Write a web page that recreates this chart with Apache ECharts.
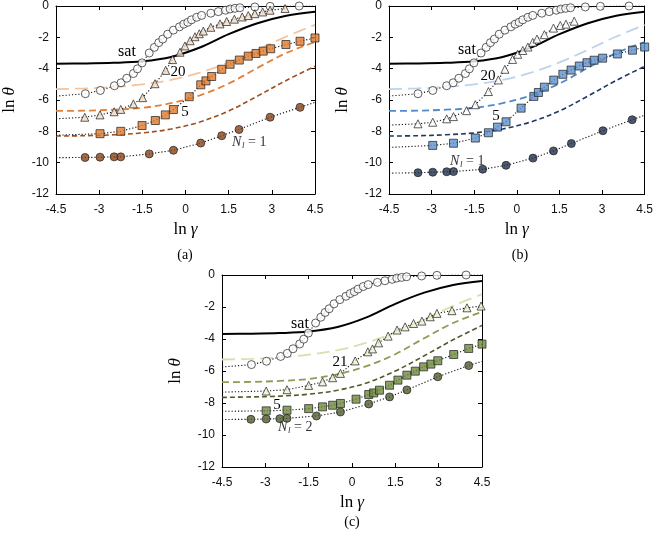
<!DOCTYPE html>
<html><head><meta charset="utf-8">
<script src="https://cdn.jsdelivr.net/npm/echarts@6/dist/echarts.min.js"></script>
<style>html,body{margin:0;padding:0;background:#fff}#c{width:656px;height:536px}</style>
</head><body><div id="c"></div><script>
// ---------- axis settings ----------
const xMin = -4.5, xMax = 4.5, xStep = 1.5;
const yMin = -12, yMax = 0, yStep = 2;

// ---------- model curves (dashed), sampled ----------
const curveX   = [-4.5, -3.5, -2.5, -1.5, -0.5, 0.5, 1.5, 2.5, 3.5, 4.5];
const satY     = [-3.68, -3.67, -3.63, -3.53, -3.25, -2.65, -1.80, -1.10, -0.62, -0.37];
const modelN20 = [-5.30, -5.26, -5.17, -5.00, -4.72, -4.25, -3.60, -2.80, -1.95, -1.20];
const modelN21 = [-5.28, -5.24, -5.15, -4.98, -4.70, -4.23, -3.58, -2.78, -1.93, -1.20];
const modelN5  = [-6.70, -6.68, -6.62, -6.50, -6.20, -5.70, -4.95, -3.95, -3.00, -2.30];
const modelN2  = [-7.65, -7.62, -7.57, -7.45, -7.20, -6.75, -6.00, -5.05, -4.05, -3.15];
const modelN1  = [-8.30, -8.28, -8.22, -8.10, -7.85, -7.40, -6.70, -5.75, -4.75, -3.85];

// ---------- measured points ----------
const satPts = [[-3.48,-5.60],[-2.96,-5.39],[-2.47,-5.09],[-2.24,-4.90],[-2.04,-4.61],[-1.81,-4.31],[-1.67,-4.01],[-1.51,-3.63],[-1.26,-3.00],[-1.08,-2.64],[-0.93,-2.34],[-0.79,-2.11],[-0.62,-1.80],[-0.42,-1.54],[-0.21,-1.33],[-0.06,-1.16],[0.08,-1.04],[0.21,-0.88],[0.39,-0.72],[0.56,-0.60],[0.88,-0.46],[1.14,-0.36],[1.39,-0.27],[1.55,-0.19],[1.72,-0.15],[1.89,-0.11],[2.41,-0.06],[2.94,-0.02],[3.95,0.0]];
const satEnds = [-5.75, 0.0];

const aN20 = [[-3.50,-7.10],[-2.97,-6.95],[-2.48,-6.75],[-2.25,-6.60],[-1.81,-6.25],[-1.49,-5.85],[-1.06,-4.96],[-0.69,-4.11],[-0.45,-3.42],[-0.19,-2.95],[-0.02,-2.55],[0.16,-2.22],[0.33,-1.96],[0.48,-1.77],[0.62,-1.60],[0.88,-1.36],[1.20,-1.14],[1.43,-0.99],[1.70,-0.84],[1.97,-0.70],[2.18,-0.61],[2.41,-0.49],[2.68,-0.38],[2.94,-0.27],[3.46,-0.16]];
const aN20Ends = [-7.20, null];
const aN5 = [[-2.97,-8.15],[-2.25,-8.00],[-1.51,-7.63],[-1.05,-7.31],[-0.70,-6.95],[-0.42,-6.61],[0.13,-5.79],[0.53,-5.03],[0.71,-4.78],[0.91,-4.50],[1.26,-4.04],[1.55,-3.72],[1.87,-3.45],[2.18,-3.20],[2.45,-3.03],[2.70,-2.88],[2.96,-2.73],[3.49,-2.46],[3.98,-2.25],[4.50,-2.04]];
const aN5Ends = [-8.25, null];
const aN1 = [[-3.49,-9.67],[-2.97,-9.65],[-2.48,-9.63],[-2.25,-9.63],[-1.26,-9.44],[-0.42,-9.21],[0.53,-8.75],[1.26,-8.28],[1.86,-7.88],[2.94,-7.10],[3.98,-6.47]];
const aN1Ends = [-9.68, -6.15];

const bN20 = [[-3.48,-7.52],[-2.96,-7.42],[-2.47,-7.20],[-2.23,-7.06],[-1.77,-6.68],[-1.46,-6.30],[-1.00,-5.46],[-0.65,-4.72],[-0.42,-4.04],[-0.15,-3.41],[0.03,-3.08],[0.21,-2.84],[0.39,-2.62],[0.56,-2.32],[0.71,-2.11],[0.97,-1.83],[1.29,-1.41],[1.53,-1.24],[1.73,-1.16],[2.02,-0.97]];
const bN20Ends = [-7.60, null];
const bN5 = [[-2.96,-8.90],[-2.23,-8.76],[-1.46,-8.43],[-1.00,-8.09],[-0.68,-7.73],[-0.38,-7.39],[0.15,-6.52],[0.60,-5.77],[0.76,-5.52],[0.97,-5.18],[1.30,-4.73],[1.62,-4.36],[1.91,-4.09],[2.20,-3.83],[2.47,-3.62],[2.72,-3.46],[3.02,-3.33],[3.54,-3.06],[4.07,-2.82],[4.50,-2.62]];
const bN5Ends = [-9.03, null];
const bN1 = [[-3.48,-10.64],[-2.96,-10.61],[-2.47,-10.58],[-2.23,-10.57],[-1.20,-10.42],[-0.38,-10.17],[0.57,-9.71],[1.29,-9.25],[1.92,-8.78],[3.03,-7.96],[4.06,-7.26]];
const bN1Ends = [-10.67, -6.97];

const cN21 = [[-2.97,-7.25],[-2.25,-7.17],[-1.50,-6.90],[-1.02,-6.68],[-0.67,-6.42],[-0.40,-6.15],[0.11,-5.37],[0.55,-4.80],[0.71,-4.62],[0.92,-4.24],[1.25,-3.82],[1.56,-3.44],[1.84,-3.24],[2.13,-3.03],[2.42,-2.88],[2.71,-2.61],[2.94,-2.40],[3.46,-2.23],[3.98,-2.05],[4.47,-1.94]];
const cN21Ends = [-7.32, null];
const cN5 = [[-2.97,-8.49],[-2.25,-8.45],[-1.50,-8.35],[-1.02,-8.24],[-0.67,-8.14],[-0.40,-8.03],[0.14,-7.76],[0.58,-7.47],[0.75,-7.37],[0.95,-7.20],[1.30,-6.89],[1.59,-6.57],[1.90,-6.26],[2.19,-6.01],[2.48,-5.74],[2.73,-5.57],[2.97,-5.36],[3.52,-4.97],[4.04,-4.59],[4.50,-4.32]];
const cN5Ends = [-8.52, null];
const cN2 = [[-3.50,-9.02],[-2.97,-9.00],[-2.50,-8.98],[-2.25,-8.96],[-1.23,-8.81],[-0.40,-8.56],[0.58,-8.06],[1.30,-7.62],[1.90,-7.18],[2.97,-6.36],[4.04,-5.66]];
const cN2Ends = [-9.03, -5.40];

// ---------- styling ----------
const palettes = {
  a: {light:'#f6c49c', mid:'#e2803a', dark:'#9c4f1f', sq:'#e07a2c', dot:'#8a4519', tri:'#f3dcc6'},
  b: {light:'#bcd3ec', mid:'#4f89c9', dark:'#1f3a62', sq:'#5c90d0', dot:'#1e2e4c', tri:'#ffffff'},
  c: {light:'#d9dfae', mid:'#8f9b55', dark:'#505a2b', sq:'#6e8a3c', dot:'#4f5c30', tri:'#eef0d2'}
};
const grids = [
  {left:56, top:5, width:259, height:189},
  {left:389, top:5, width:257, height:189},
  {left:222, top:275, width:260, height:192}
];

function zip(xs, ys){ return xs.map((x,i)=>[x, ys[i]]); }
function withEnds(pts, ends){
  const out = [[xMin, ends[0]]].concat(pts);
  if (ends[1] !== null) out.push([xMax, ends[1]]);
  return out;
}

const xAxes = [], yAxes = [], series = [];
grids.forEach((g, i) => {
  const tickStyle = {show:true, inside:true, length:4, lineStyle:{color:'#000', width:1}};
  xAxes.push({gridIndex:i, type:'value', min:xMin, max:xMax, interval:xStep, position:'bottom',
    axisLine:{onZero:false, lineStyle:{color:'#000', width:1}}, axisTick:tickStyle, splitLine:{show:false},
    axisLabel:{color:'#111', fontFamily:'Liberation Sans', fontSize:12, margin:10},
    name:'{n|ln}{g|γ}', nameLocation:'middle', nameGap:27,
    nameTextStyle:{rich:{n:{fontFamily:'Liberation Serif', fontSize:17, color:'#000'}, g:{fontFamily:'Liberation Serif', fontStyle:'italic', fontSize:17, color:'#000', padding:[0,0,0,4]}}}
  });
  xAxes.push({gridIndex:i, type:'value', min:xMin, max:xMax, interval:xStep, position:'top',
    axisLine:{onZero:false, lineStyle:{color:'#000', width:1}}, axisTick:tickStyle, axisLabel:{show:false}, splitLine:{show:false}});
  yAxes.push({gridIndex:i, type:'value', min:yMin, max:yMax, interval:yStep, position:'left',
    axisLine:{onZero:false, lineStyle:{color:'#000', width:1}}, axisTick:tickStyle, splitLine:{show:false},
    axisLabel:{color:'#111', fontFamily:'Liberation Sans', fontSize:12, margin:7},
    name:'{n|ln}{g|θ}', nameLocation:'middle', nameGap:38, nameRotate:90,
    nameTextStyle:{rich:{n:{fontFamily:'Liberation Serif', fontSize:17, color:'#000'}, g:{fontFamily:'Liberation Serif', fontStyle:'italic', fontSize:17, color:'#000', padding:[0,0,0,4]}}}
  });
  yAxes.push({gridIndex:i, type:'value', min:yMin, max:yMax, interval:yStep, position:'right',
    axisLine:{onZero:false, lineStyle:{color:'#000', width:1}}, axisTick:tickStyle, axisLabel:{show:false}, splitLine:{show:false}});
});

function addPanel(i, pal, hi, mid, lo, sets){
  const ax = {xAxisIndex:2*i, yAxisIndex:2*i};
  const dashed = (ys, color, dash, w) => ({type:'line', ...ax, data:zip(curveX, ys), smooth:0.35, symbol:'none', silent:true, z:2,
    lineStyle:{color, width:w, type:dash}});
  series.push(dashed(hi, pal.light, [13,6], 1.8));
  series.push(dashed(mid, pal.mid, [7,4], 1.8));
  series.push(dashed(lo, pal.dark, [5,3], 1.6));
  series.push({type:'line', ...ax, data:zip(curveX, satY), smooth:0.35, symbol:'none', z:3, lineStyle:{color:'#000', width:2}});
  sets.forEach(s => {
    series.push({type:'line', ...ax, data:withEnds(s.pts, s.ends), symbol:'none', z:4,
      lineStyle:{color:'#111', width:1.1, type:[1.2,2]}});
    series.push({type:'scatter', ...ax, data:s.pts, symbol:s.sym, symbolSize:s.size, z:5,
      itemStyle:{color:s.fill, borderColor:'#222', borderWidth:0.9}});
  });
}
const pa = palettes.a, pb = palettes.b, pc = palettes.c;
addPanel(0, pa, modelN20, modelN5, modelN1, [
  {pts:satPts, ends:satEnds, sym:'circle', size:8, fill:'#fff'},
  {pts:aN20, ends:aN20Ends, sym:'triangle', size:8, fill:pa.tri},
  {pts:aN5, ends:aN5Ends, sym:'rect', size:8, fill:pa.sq},
  {pts:aN1, ends:aN1Ends, sym:'circle', size:8, fill:pa.dot}
]);
addPanel(1, pb, modelN20, modelN5, modelN1, [
  {pts:satPts, ends:satEnds, sym:'circle', size:8, fill:'#fff'},
  {pts:bN20, ends:bN20Ends, sym:'triangle', size:8, fill:pb.tri},
  {pts:bN5, ends:bN5Ends, sym:'rect', size:8, fill:pb.sq},
  {pts:bN1, ends:bN1Ends, sym:'circle', size:8, fill:pb.dot}
]);
addPanel(2, pc, modelN21, modelN5, modelN2, [
  {pts:satPts, ends:satEnds, sym:'circle', size:8, fill:'#fff'},
  {pts:cN21, ends:cN21Ends, sym:'triangle', size:8, fill:pc.tri},
  {pts:cN5, ends:cN5Ends, sym:'rect', size:8, fill:pc.sq},
  {pts:cN2, ends:cN2Ends, sym:'circle', size:8, fill:pc.dot}
]);

// ---------- annotations ----------
const serif = 'Liberation Serif';
function txt(x, y, s, size, extra){ return Object.assign({type:'text', x, y, style:{text:s, font:(size||15)+'px "'+serif+'"', fill:'#000', textAlign:'center', textVerticalAlign:'middle'}, z:10}, extra||{}); }
function nLabel(x, y, val){
  return {type:'group', x, y, z:10, children:[
    {type:'text', x:0, y:0, style:{text:'N', font:'italic 14px "'+serif+'"', fill:'#333', textVerticalAlign:'middle'}},
    {type:'text', x:10, y:4, style:{text:'l', font:'italic 9px "'+serif+'"', fill:'#333', textVerticalAlign:'middle'}},
    {type:'text', x:16, y:0, style:{text:'= '+val, font:'14px "'+serif+'"', fill:'#333', textVerticalAlign:'middle'}}
  ]};
}
const graphics = [
  txt(127, 52, 'sat', 16), txt(178, 72, '20', 15), txt(185, 112, '5', 15), nLabel(232, 142, '1'),
  txt(467, 50, 'sat', 16), txt(488, 76, '20', 15), txt(496, 116, '5', 15), nLabel(450, 161, '1'),
  txt(300, 324, 'sat', 16), txt(340, 362, '21', 15), txt(277, 405, '5', 15), nLabel(278, 427, '2'),
  txt(185, 255, '(a)', 14), txt(520, 255, '(b)', 14), txt(352, 522, '(c)', 14)
];

const chart = echarts.init(document.getElementById('c'), null, {renderer:'canvas'});
chart.setOption({
  animation:false, backgroundColor:'#fff',
  grid: grids, xAxis: xAxes, yAxis: yAxes, series, graphic: graphics
});
</script></body></html>
